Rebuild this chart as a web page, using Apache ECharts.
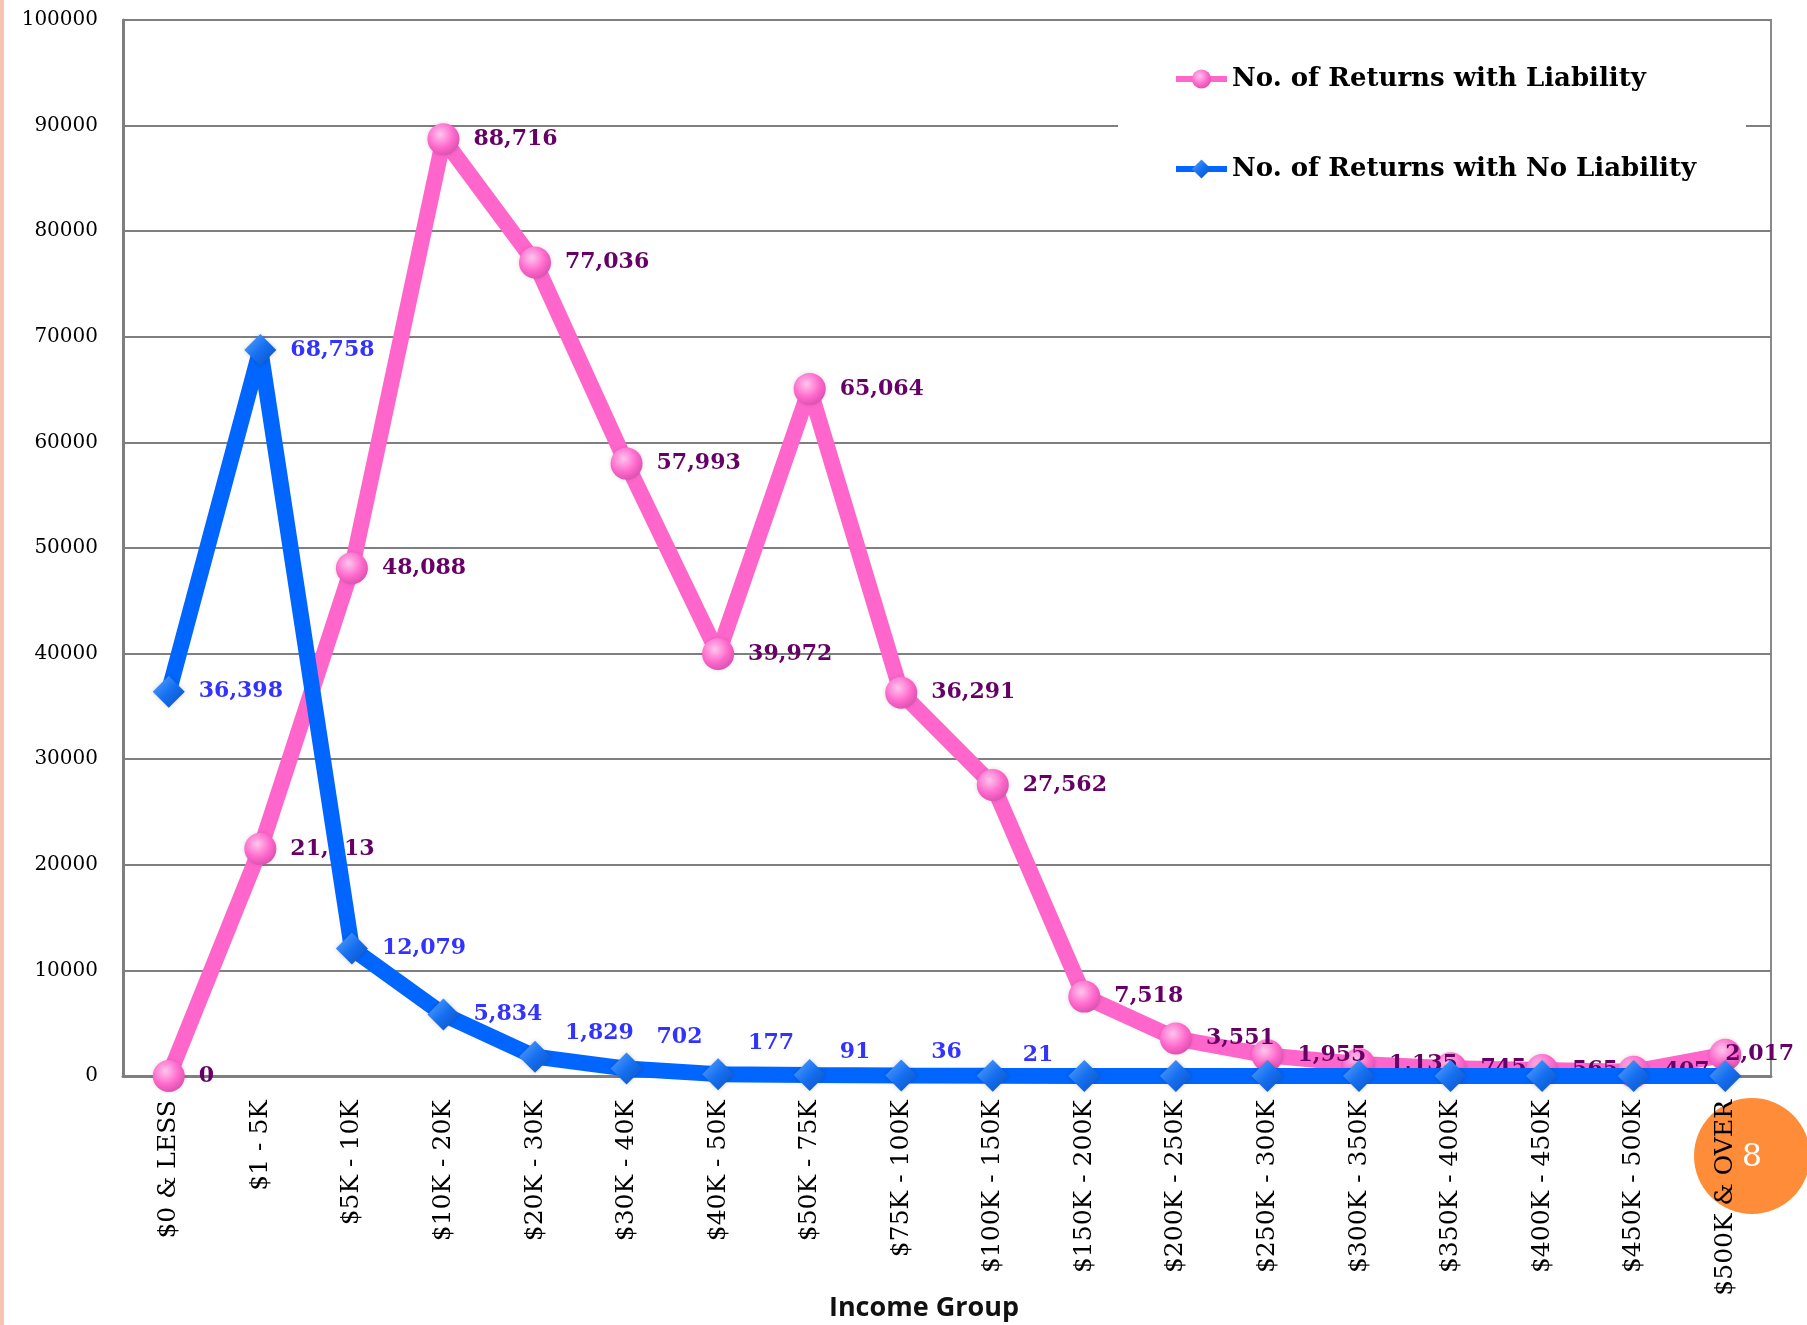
<!DOCTYPE html>
<html>
<head>
<meta charset="utf-8">
<script src="https://cdn.jsdelivr.net/npm/echarts@6/dist/echarts.min.js"></script>
<style>
  html, body { margin: 0; padding: 0; background: #fff; }
  #main { width: 1807px; height: 1325px; }
</style>
</head>
<body>
<div id="main"></div>
<script>
  // income groups along the x axis
  var incomeGroups = [
    "$0 & LESS", "$1 - 5K", "$5K - 10K", "$10K - 20K", "$20K - 30K",
    "$30K - 40K", "$40K - 50K", "$50K - 75K", "$75K - 100K", "$100K - 150K",
    "$150K - 200K", "$200K - 250K", "$250K - 300K", "$300K - 350K",
    "$350K - 400K", "$400K - 450K", "$450K - 500K", "$500K & OVER"
  ];

  var withLiability = [
    0, 21513, 48088, 88716, 77036, 57993, 39972, 65064, 36291, 27562,
    7518, 3551, 1955, 1135, 745, 565, 407, 2017
  ];

  // last points have no printed value in the picture, estimated near zero
  var noLiability = [
    36398, 68758, 12079, 5834, 1829, 702, 177, 91, 36, 21,
    10, 6, 4, 3, 2, 1, 1, 2
  ];
  var noLiabilityLabelled = 10;

  var yTicks = { min: 0, max: 100000, step: 10000 };

  // label nudges (px): blue small values sit above their point,
  // the last pink label hugs its point
  var blueLift = [0, 0, 0, 0, 23, 31, 31, 23, 23, 20];
  var pinkShift = { 17: -30 };

  var serif = "DejaVu Serif";

  var myChart = echarts.init(document.getElementById("main"));

  var pinkDot = {
    type: "radial", x: 0.4, y: 0.35, r: 0.75,
    colorStops: [
      { offset: 0, color: "#ffc6ee" },
      { offset: 0.55, color: "#ff69cc" },
      { offset: 1, color: "#d24aa8" }
    ]
  };
  var blueDot = {
    type: "linear", x: 0, y: 0, x2: 1, y2: 1,
    colorStops: [
      { offset: 0, color: "#5ea6ff" },
      { offset: 0.5, color: "#1670f0" },
      { offset: 1, color: "#0a4fc0" }
    ]
  };

  function fmt(p) { return p.value.toLocaleString("en-US"); }

  var option = {
    backgroundColor: "#fff",
    animation: false,
    grid: {
      left: 123, right: 36, top: 20, bottom: 249,
      outerBoundsMode: "none",
      show: true, borderColor: "#8a8a8a", borderWidth: 2
    },
    legend: {
      orient: "vertical",
      left: 1118, top: 30,
      padding: [36, 50, 20, 55],
      backgroundColor: "#fff",
      itemGap: 64,
      itemWidth: 51, itemHeight: 24,
      lineStyle: { width: 6 },
      textStyle: { fontFamily: serif, fontWeight: "bold", fontSize: 26, color: "#000" },
      data: ["No. of Returns with Liability", "No. of Returns with No Liability"]
    },
    xAxis: {
      type: "category",
      data: incomeGroups,
      boundaryGap: true,
      name: "Income Group",
      nameLocation: "middle",
      nameMoveOverlap: false,
      nameGap: 232,
      nameTextStyle: {
        fontFamily: "Open Sans", fontWeight: "bold", fontSize: 27, color: "#111",
        verticalAlign: "middle",
        padding: [0, 46, 0, 0]
      },
      axisLine: { lineStyle: { color: "#7f7f7f", width: 3 } },
      axisTick: { show: false },
      axisLabel: {
        rotate: 90, interval: 0, margin: 24,
        fontFamily: serif, fontSize: 25, color: "#000"
      },
      splitLine: { show: false }
    },
    yAxis: {
      type: "value",
      min: yTicks.min, max: yTicks.max, interval: yTicks.step,
      axisLine: { show: true, lineStyle: { color: "#7f7f7f", width: 3 } },
      axisTick: { show: false },
      axisLabel: {
        margin: 25, fontFamily: serif, fontSize: 20, color: "#000",
        formatter: function (v) { return String(v); }
      },
      splitLine: { lineStyle: { color: "#7f7f7f", width: 2 } }
    },
    series: [
      {
        name: "No. of Returns with Liability",
        type: "line",
        data: withLiability.map(function (v, i) {
          return { value: v, label: { offset: [pinkShift[i] || 0, 0] } };
        }),
        symbol: "circle",
        symbolSize: 32,
        lineStyle: { color: "#ff66cc", width: 16 },
        itemStyle: { color: pinkDot, shadowColor: "rgba(0,0,0,0.15)", shadowBlur: 4 },
        label: {
          show: true, position: "right", distance: 14,
          fontFamily: serif, fontWeight: "bold", fontSize: 22, color: "#660066",
          formatter: fmt
        },
        z: 2
      },
      {
        name: "No. of Returns with No Liability",
        type: "line",
        data: noLiability.map(function (v, i) {
          var lift = blueLift[i] || 0;
          return {
            value: v,
            label: { show: i < noLiabilityLabelled, offset: [0, -lift] }
          };
        }),
        symbol: "diamond",
        symbolSize: 32,
        lineStyle: { color: "#0066ff", width: 16 },
        itemStyle: { color: blueDot, shadowColor: "rgba(0,0,0,0.2)", shadowBlur: 4 },
        label: {
          show: true, position: "right", distance: 14,
          fontFamily: serif, fontWeight: "bold", fontSize: 22, color: "#3333ff",
          formatter: fmt
        },
        z: 3
      }
    ],
    graphic: [
      { type: "rect", left: 0, top: 0, shape: { width: 4, height: 1325 }, style: { fill: "#f8c3b2" }, z: -1 },
      { type: "circle", shape: { cx: 1752, cy: 1156, r: 58 }, style: { fill: "#ff8c38" }, z: -1 },
      {
        type: "text", x: 1752, y: 1158, z: 100,
        style: { text: "8", fill: "#fff", font: "32px 'DejaVu Serif'", align: "center", verticalAlign: "middle" }
      }
    ]
  };

  myChart.setOption(option);
</script>
</body>
</html>
